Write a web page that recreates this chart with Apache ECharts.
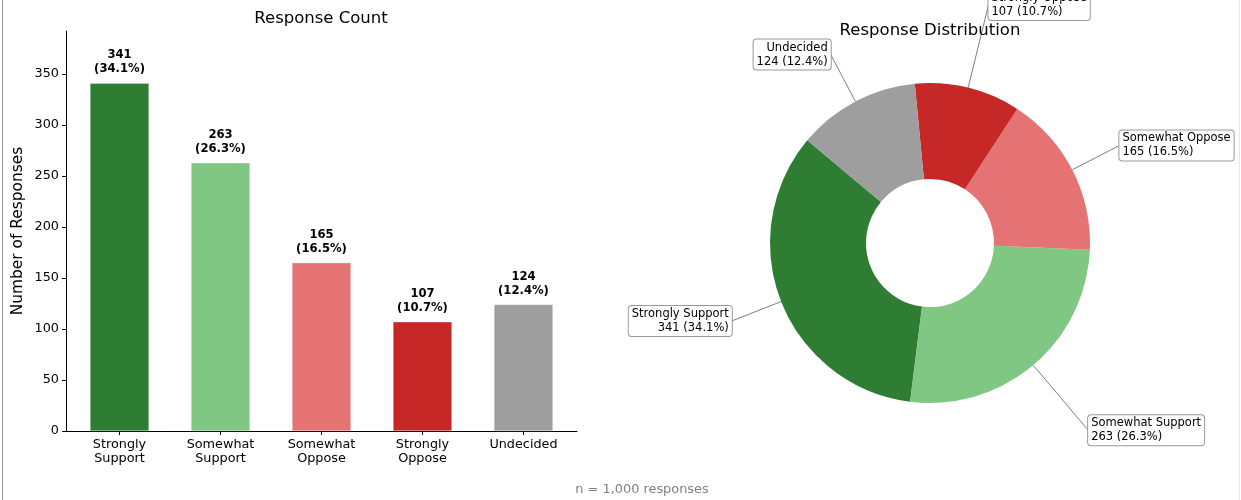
<!DOCTYPE html>
<html>
<head>
<meta charset="utf-8">
<script src="https://cdn.jsdelivr.net/npm/echarts@6/dist/echarts.min.js"></script>
<style>
html,body{margin:0;padding:0;background:#fff;}
#chart{width:1241px;height:500px;}
</style>
</head>
<body>
<div id="chart"></div>
<script>
// ---- data ----
const categories = ['Strongly Support', 'Somewhat Support', 'Somewhat Oppose', 'Strongly Oppose', 'Undecided'];
const axisCategoryLabels = ['Strongly\nSupport', 'Somewhat\nSupport', 'Somewhat\nOppose', 'Strongly\nOppose', 'Undecided'];
const counts = [341, 263, 165, 107, 124];
const colors = ['#2e7d32', '#81c784', '#e57373', '#c62828', '#9e9e9e'];
const yTicks = [0, 50, 100, 150, 200, 250, 300, 350];
const totalResponses = 1000;
const footerText = 'n = 1,000 responses';

const FONT = 'DejaVu Sans';
const pct = v => (v / totalResponses * 100).toFixed(1);
const yMax = Math.max(...counts) * 1.15;
const xPositions = categories.map((c, i) => i);
const xPad = 0.3 + 0.05 * (categories.length - 1 + 0.6);

const R = 160;
const chart = echarts.init(document.getElementById('chart'), null, {renderer: 'canvas'});

const pieData = categories.map((c, i) => ({
  name: c,
  value: counts[i],
  itemStyle: {color: colors[i]},
  labelLine: {length: (i % 2 === 0 ? 0.35 : 0.55) * R - 3, length2: 0}
}));

const option = {
  backgroundColor: '#ffffff',
  animation: false,
  textStyle: {fontFamily: FONT},
  title: [
    {text: 'Response Count', left: 316, top: 5, textAlign: 'center',
     textStyle: {fontFamily: FONT, fontSize: 16.5, fontWeight: 'normal', color: '#000'}},
    {text: 'Response Distribution', left: 925, top: 17, textAlign: 'center',
     textStyle: {fontFamily: FONT, fontSize: 16.5, fontWeight: 'normal', color: '#000'}},
    {text: footerText, left: 637, top: 478, textAlign: 'center',
     textStyle: {fontFamily: FONT, fontSize: 12.9, fontWeight: 'normal', color: '#808080'}}
  ],
  graphic: [
    {type: 'line', shape: {x1: 2.5, y1: 0, x2: 2.5, y2: 500}, style: {stroke: '#999', lineWidth: 1}},
    {type: 'line', shape: {x1: 1239.5, y1: 0, x2: 1239.5, y2: 500}, style: {stroke: '#e6e6e6', lineWidth: 1}}
  ],
  grid: {left: 66, right: 664, top: 31, bottom: 69, containLabel: false},
  xAxis: {
    type: 'value',
    min: -xPad,
    max: categories.length - 1 + xPad,
    axisLine: {show: true, onZero: false, lineStyle: {color: '#000', width: 1}},
    axisTick: {show: true, length: 4, inside: false, lineStyle: {color: '#000'}, customValues: xPositions},
    axisLabel: {fontFamily: FONT, fontSize: 12.8, color: '#000', margin: 7, lineHeight: 14,
                customValues: xPositions, formatter: v => axisCategoryLabels[Math.round(v)]},
    splitLine: {show: false}
  },
  yAxis: {
    type: 'value',
    min: 0,
    max: yMax,
    name: 'Number of Responses',
    nameLocation: 'middle',
    nameRotate: 90,
    nameGap: 41,
    nameTextStyle: {fontFamily: FONT, fontSize: 15.4, color: '#000'},
    axisLine: {show: true, onZero: false, lineStyle: {color: '#000', width: 1}},
    axisTick: {show: true, length: 4, inside: false, lineStyle: {color: '#000'}, customValues: yTicks},
    axisLabel: {fontFamily: FONT, fontSize: 12.8, color: '#000', margin: 7, customValues: yTicks},
    splitLine: {show: false}
  },
  series: [
    {
      type: 'bar',
      data: counts.map((v, i) => ({value: [xPositions[i], v], itemStyle: {color: colors[i]}})),
      barWidth: 59,
      itemStyle: {borderColor: 'rgba(255,255,255,0.6)', borderWidth: 0.5},
      label: {
        show: true,
        position: 'top',
        distance: 7,
        fontFamily: FONT,
        fontSize: 11.6,
        fontWeight: 'bold',
        color: '#000',
        lineHeight: 14,
        align: 'center',
        formatter: p => p.value[1] + '\n(' + pct(p.value[1]) + '%)'
      }
    },
    {
      type: 'pie',
      center: [930, 243],
      radius: [64, R],
      startAngle: 140.1,
      clockwise: false,
      avoidLabelOverlap: false,
      data: pieData,
      label: {
        show: true,
        position: 'outside',
        distanceToLabelLine: 0,
        fontFamily: FONT,
        fontSize: 11.5,
        color: '#000',
        lineHeight: 14,
        backgroundColor: '#fff',
        borderColor: '#999',
        borderWidth: 1,
        borderRadius: 3,
        padding: [1, 3, 1, 3],
        formatter: p => p.name + '\n' + p.value + ' (' + pct(p.value) + '%)'
      },
      labelLine: {show: true, lineStyle: {color: '#808080', width: 1}},
      emphasis: {disabled: true}
    }
  ]
};
chart.setOption(option);
</script>
</body>
</html>
